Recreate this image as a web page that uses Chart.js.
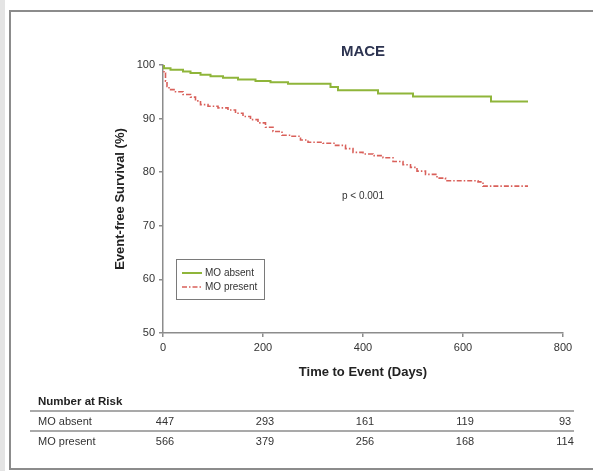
<!DOCTYPE html>
<html>
<head>
<meta charset="utf-8">
<script src="https://cdn.jsdelivr.net/npm/chart.js@4/dist/chart.umd.min.js"></script>
<style>
  html, body { margin: 0; padding: 0; background: #fff; }
  #wrap { position: relative; width: 593px; height: 471px; overflow: hidden; }
  #frame { position: absolute; left: 9px; top: 10px; width: 600px; height: 456px; border: 2px solid #8c8c8c; }
  #edge { position: absolute; left: 0; top: 0; width: 5px; height: 471px; background: #e4e4e4; }
  canvas { position: absolute; left: 0; top: 0; }
</style>
</head>
<body>
<div id="wrap">
  <div id="edge"></div>
  <div id="frame"></div>
  <canvas id="km" width="593" height="471"></canvas>
</div>
<script>
// Kaplan-Meier steps: [day, survival %]
const moAbsent = [
  [0, 100], [2, 99.4], [15, 99.1], [40, 98.8], [55, 98.5], [75, 98.2], [95, 97.9],
  [120, 97.6], [150, 97.3], [185, 97.0], [215, 96.8], [250, 96.5], [335, 95.9],
  [350, 95.3], [430, 94.7], [500, 94.1], [656, 93.2], [730, 93.2]
];
const moPresent = [
  [0, 100], [2, 98.5], [5, 97.0], [8, 96.0], [12, 95.4], [25, 95.0], [40, 94.5],
  [55, 94.0], [65, 93.3], [75, 92.6], [90, 92.3], [110, 92.0], [130, 91.6],
  [145, 91.0], [160, 90.4], [175, 89.8], [190, 89.2], [205, 88.4], [220, 87.6],
  [238, 86.9], [255, 86.7], [275, 86.0], [290, 85.6], [320, 85.4], [345, 85.0],
  [365, 84.4], [380, 83.7], [400, 83.4], [420, 83.1], [440, 82.7], [460, 82.0],
  [480, 81.4], [495, 80.9], [508, 80.2], [525, 79.6], [548, 78.9], [565, 78.4],
  [630, 78.2], [640, 77.4], [730, 77.4]
];

// number at risk table
const riskTimes = [0, 200, 400, 600, 800];
const riskAbsent = [447, 293, 161, 119, 93];
const riskPresent = [566, 379, 256, 168, 114];
const groupLabels = ['MO absent', 'MO present'];

const GREEN = '#8fb53a';
const RED = '#d9605a';
const FONT = "'Liberation Sans', Arial, sans-serif";

const toPoints = arr => arr.map(p => ({ x: p[0], y: p[1] }));

const overlayPlugin = {
  id: 'overlay',
  afterDraw(chart) {
    const ctx = chart.ctx;
    const xs = chart.scales.x;
    const ys = chart.scales.y;
    const area = chart.chartArea;
    ctx.save();

    // title
    ctx.fillStyle = '#2c3350';
    ctx.font = 'bold 15px ' + FONT;
    ctx.textAlign = 'center';
    ctx.textBaseline = 'middle';
    ctx.fillText('MACE', (area.left + area.right) / 2, 52);

    // p value
    ctx.fillStyle = '#333';
    ctx.font = '10px ' + FONT;
    ctx.fillText('p < 0.001', xs.getPixelForValue(400), ys.getPixelForValue(75.5));

    // legend box
    ctx.strokeStyle = '#7a7a7a';
    ctx.lineWidth = 1;
    ctx.strokeRect(176.5, 259.5, 88, 40);
    chart.data.datasets.forEach((ds, i) => {
      const y = 273 + i * 14;
      ctx.strokeStyle = ds.borderColor;
      ctx.lineWidth = ds.borderWidth;
      ctx.setLineDash(ds.borderDash || []);
      ctx.beginPath();
      ctx.moveTo(182, y);
      ctx.lineTo(202, y);
      ctx.stroke();
      ctx.setLineDash([]);
      ctx.fillStyle = '#333';
      ctx.font = '10px ' + FONT;
      ctx.textAlign = 'left';
      ctx.fillText(ds.label, 205, y);
    });

    // number at risk
    ctx.fillStyle = '#222';
    ctx.font = 'bold 11.5px ' + FONT;
    ctx.textAlign = 'left';
    ctx.fillText('Number at Risk', 38, 402);
    ctx.strokeStyle = '#8c8c8c';
    ctx.lineWidth = 1.5;
    [411, 431].forEach(y => {
      ctx.beginPath();
      ctx.moveTo(30, y);
      ctx.lineTo(574, y);
      ctx.stroke();
    });
    ctx.font = '11px ' + FONT;
    ctx.fillStyle = '#333';
    [riskAbsent, riskPresent].forEach((row, r) => {
      const y = 422 + r * 20;
      ctx.textAlign = 'left';
      ctx.fillText(groupLabels[r], 38, y);
      ctx.textAlign = 'center';
      row.forEach((n, i) => {
        ctx.fillText(String(n), xs.getPixelForValue(riskTimes[i]) + 2, y);
      });
    });
    ctx.restore();
  }
};

const ctx = document.getElementById('km').getContext('2d');
new Chart(ctx, {
  type: 'line',
  data: {
    datasets: [{
      label: groupLabels[0],
      data: toPoints(moAbsent),
      borderColor: GREEN,
      borderWidth: 2,
      stepped: true,
      pointRadius: 0,
      fill: false
    }, {
      label: groupLabels[1],
      data: toPoints(moPresent),
      borderColor: RED,
      borderWidth: 1.6,
      borderDash: [5, 2, 1.5, 2],
      stepped: true,
      pointRadius: 0,
      fill: false
    }]
  },
  options: {
    responsive: false,
    devicePixelRatio: 1,
    animation: false,
    layout: { padding: { left: 108, right: 30, top: 65, bottom: 90 } },
    plugins: {
      legend: { display: false },
      tooltip: { enabled: false },
      title: { display: false }
    },
    scales: {
      x: {
        type: 'linear',
        min: 0,
        max: 800,
        afterFit: s => { s.height = 48; },
        ticks: { stepSize: 200, color: '#333', padding: 4, font: { family: FONT, size: 11 } },
        grid: { drawOnChartArea: false, tickLength: 4, color: '#8c8c8c', lineWidth: 1.5 },
        border: { color: '#8c8c8c', width: 1.5 },
        title: {
          display: true,
          text: 'Time to Event (Days)',
          color: '#222',
          padding: { top: 0, bottom: 1 },
          font: { family: FONT, size: 13, weight: 'bold' }
        }
      },
      y: {
        min: 50,
        max: 100,
        afterFit: s => { s.width = 55; },
        ticks: { stepSize: 10, color: '#333', padding: 4, font: { family: FONT, size: 11 } },
        grid: { drawOnChartArea: false, tickLength: 4, color: '#8c8c8c', lineWidth: 1.5 },
        border: { color: '#8c8c8c', width: 1.5 },
        title: {
          display: true,
          text: 'Event-free Survival (%)',
          color: '#222',
          padding: { top: 5, bottom: 0 },
          font: { family: FONT, size: 13, weight: 'bold' }
        }
      }
    }
  },
  plugins: [overlayPlugin]
});
</script>
</body>
</html>
